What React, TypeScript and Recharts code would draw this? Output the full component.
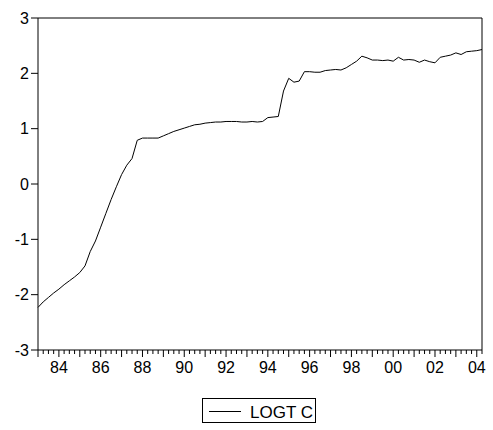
import React from 'react';
import { LineChart, Line, XAxis, YAxis, ReferenceLine } from 'recharts';

// quarterly series, 1983Q1 .. 2004Q2
const startYear = 1983;
const logtc = [
  -2.23, -2.13, -2.05, -1.97, -1.9, -1.82, -1.75, -1.68, -1.6, -1.48,
  -1.22, -1.03, -0.78, -0.53, -0.28, -0.05, 0.17, 0.34, 0.46, 0.79,
  0.83, 0.83, 0.83, 0.83, 0.87, 0.91, 0.95, 0.98, 1.01, 1.04,
  1.07, 1.08, 1.1, 1.11, 1.12, 1.12, 1.13, 1.13, 1.13, 1.12,
  1.12, 1.13, 1.12, 1.13, 1.2, 1.21, 1.22, 1.68, 1.91, 1.84,
  1.86, 2.03, 2.03, 2.02, 2.02, 2.05, 2.06, 2.07, 2.06, 2.1,
  2.16, 2.22, 2.31, 2.28, 2.24, 2.24, 2.23, 2.24, 2.22, 2.29,
  2.24, 2.25, 2.24, 2.2, 2.24, 2.21, 2.19, 2.29, 2.31, 2.33,
  2.37, 2.34, 2.39, 2.4, 2.41, 2.43,
];
const yTicks = [-3, -2, -1, 0, 1, 2, 3];
const yearLabels = ['84', '86', '88', '90', '92', '94', '96', '98', '00', '02', '04'];

const data = logtc.map((v, i) => ({ t: i, v }));
const quarterTicks = data.map(d => d.t);
const lastT = data.length - 1;

const FONT = '"Liberation Sans", Arial, Helvetica, sans-serif';

const QuarterTick = (props: any) => {
  const { x, y, payload } = props;
  const i = payload.value as number;
  const isQ1 = i % 4 === 0;
  const year = startYear + Math.floor(i / 4);
  const label = String(year % 100).padStart(2, '0');
  const show = isQ1 && yearLabels.includes(label);
  return (
    <g>
      <line x1={x} y1={y} x2={x} y2={y + (isQ1 ? 7 : 4)} stroke="#000" strokeWidth={1} />
      {show && (
        <text x={x} y={y + 23} textAnchor="middle" fontSize={16} fontFamily={FONT} fill="#000">
          {label}
        </text>
      )}
    </g>
  );
};

export default function App() {
  return (
    <div style={{ position: 'absolute', left: 0, top: 0, width: 493, height: 430, background: '#fff' }}>
      <LineChart width={493} height={430} data={data} margin={{ top: 18, right: 11, left: 0, bottom: 0 }}>
        <XAxis
          dataKey="t"
          type="number"
          domain={[0, lastT]}
          ticks={quarterTicks}
          interval={0}
          height={80}
          tickSize={0}
          tickMargin={0}
          tickLine={false}
          axisLine={{ stroke: '#000' }}
          tick={<QuarterTick />}
        />
        <YAxis
          type="number"
          domain={[-3, 3]}
          ticks={yTicks}
          width={38}
          tickSize={7}
          tickMargin={2}
          axisLine={{ stroke: '#000' }}
          tickLine={{ stroke: '#000' }}
          tick={{ fontSize: 16, fontFamily: FONT, fill: '#000' }}
        />
        <ReferenceLine y={3} stroke="#000" />
        <ReferenceLine x={lastT} stroke="#000" />
        <Line
          type="linear"
          dataKey="v"
          stroke="#000"
          strokeWidth={1}
          dot={false}
          isAnimationActive={false}
        />
      </LineChart>
      <svg style={{ position: 'absolute', left: 0, top: 0 }} width={493} height={430}>
        <rect x={202.5} y={398.5} width={113} height={24} fill="none" stroke="#000" />
        <line x1={209} y1={411.5} x2={241} y2={411.5} stroke="#000" />
        <text x={250} y={418} fontSize={17} fontFamily={FONT} fill="#000">
          LOGT C
        </text>
      </svg>
    </div>
  );
}
